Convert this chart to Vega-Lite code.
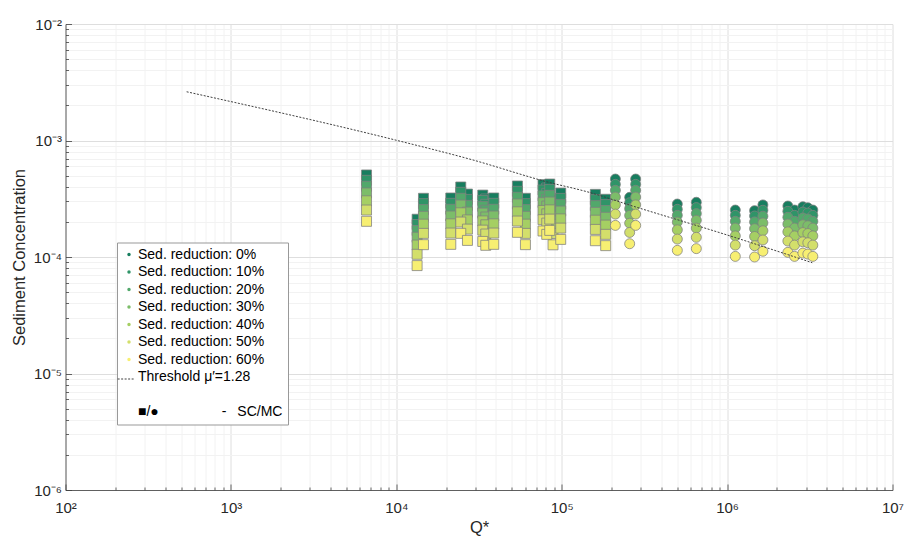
{
  "$schema": "https://vega.github.io/schema/vega-lite/v6.json",
  "width": 827,
  "height": 466,
  "autosize": {"type": "none"},
  "padding": {"left": 65.5, "top": 24, "right": 29, "bottom": 48},
  "background": "#ffffff",
  "config": {"view": {"stroke": null}, "font": "Liberation Sans"},
  "datasets": {
    "pts": [
      {"q":6607,"c":5.06e-4,"s":"0%","t":"SC"},{"q":13360,"c":2.11e-4,"s":"0%","t":"SC"},{"q":14600,"c":3.19e-4,"s":"0%","t":"SC"},{"q":21350,"c":3.21e-4,"s":"0%","t":"SC"},{"q":24530,"c":3.99e-4,"s":"0%","t":"SC"},{"q":26930,"c":3.47e-4,"s":"0%","t":"SC"},{"q":33320,"c":3.40e-4,"s":"0%","t":"SC"},{"q":34740,"c":3.15e-4,"s":"0%","t":"SC"},{"q":38830,"c":3.21e-4,"s":"0%","t":"SC"},{"q":54000,"c":4.07e-4,"s":"0%","t":"SC"},{"q":60350,"c":3.19e-4,"s":"0%","t":"SC"},{"q":77100,"c":4.18e-4,"s":"0%","t":"SC"},{"q":81200,"c":3.91e-4,"s":"0%","t":"SC"},{"q":84650,"c":4.23e-4,"s":"0%","t":"SC"},{"q":88630,"c":3.18e-4,"s":"0%","t":"SC"},{"q":98630,"c":3.54e-4,"s":"0%","t":"SC"},{"q":159800,"c":3.45e-4,"s":"0%","t":"SC"},{"q":184500,"c":3.13e-4,"s":"0%","t":"SC"},
      {"q":211100,"c":4.67e-4,"s":"0%","t":"MC"},{"q":257600,"c":3.25e-4,"s":"0%","t":"MC"},{"q":280000,"c":4.67e-4,"s":"0%","t":"MC"},{"q":500100,"c":2.85e-4,"s":"0%","t":"MC"},{"q":651500,"c":2.95e-4,"s":"0%","t":"MC"},{"q":1121000,"c":2.53e-4,"s":"0%","t":"MC"},{"q":1466000,"c":2.50e-4,"s":"0%","t":"MC"},{"q":1646000,"c":2.80e-4,"s":"0%","t":"MC"},{"q":2330000,"c":2.74e-4,"s":"0%","t":"MC"},{"q":2557000,"c":2.53e-4,"s":"0%","t":"MC"},{"q":2871000,"c":2.70e-4,"s":"0%","t":"MC"},{"q":3077000,"c":2.65e-4,"s":"0%","t":"MC"},{"q":3299000,"c":2.53e-4,"s":"0%","t":"MC"},

      {"q":6607,"c":4.554e-4,"s":"10%","t":"SC"},{"q":13360,"c":1.899e-4,"s":"10%","t":"SC"},{"q":14600,"c":2.871e-4,"s":"10%","t":"SC"},{"q":21350,"c":2.889e-4,"s":"10%","t":"SC"},{"q":24530,"c":3.591e-4,"s":"10%","t":"SC"},{"q":26930,"c":3.123e-4,"s":"10%","t":"SC"},{"q":33320,"c":3.06e-4,"s":"10%","t":"SC"},{"q":34740,"c":2.835e-4,"s":"10%","t":"SC"},{"q":38830,"c":2.889e-4,"s":"10%","t":"SC"},{"q":54000,"c":3.663e-4,"s":"10%","t":"SC"},{"q":60350,"c":2.871e-4,"s":"10%","t":"SC"},{"q":77100,"c":3.762e-4,"s":"10%","t":"SC"},{"q":81200,"c":3.519e-4,"s":"10%","t":"SC"},{"q":84650,"c":3.807e-4,"s":"10%","t":"SC"},{"q":88630,"c":2.862e-4,"s":"10%","t":"SC"},{"q":98630,"c":3.186e-4,"s":"10%","t":"SC"},{"q":159800,"c":3.105e-4,"s":"10%","t":"SC"},{"q":184500,"c":2.817e-4,"s":"10%","t":"SC"},
      {"q":211100,"c":4.203e-4,"s":"10%","t":"MC"},{"q":257600,"c":2.925e-4,"s":"10%","t":"MC"},{"q":280000,"c":4.203e-4,"s":"10%","t":"MC"},{"q":500100,"c":2.565e-4,"s":"10%","t":"MC"},{"q":651500,"c":2.655e-4,"s":"10%","t":"MC"},{"q":1121000,"c":2.277e-4,"s":"10%","t":"MC"},{"q":1466000,"c":2.25e-4,"s":"10%","t":"MC"},{"q":1646000,"c":2.52e-4,"s":"10%","t":"MC"},{"q":2330000,"c":2.466e-4,"s":"10%","t":"MC"},{"q":2557000,"c":2.277e-4,"s":"10%","t":"MC"},{"q":2871000,"c":2.43e-4,"s":"10%","t":"MC"},{"q":3077000,"c":2.385e-4,"s":"10%","t":"MC"},{"q":3299000,"c":2.277e-4,"s":"10%","t":"MC"},

      {"q":6607,"c":4.048e-4,"s":"20%","t":"SC"},{"q":13360,"c":1.688e-4,"s":"20%","t":"SC"},{"q":14600,"c":2.552e-4,"s":"20%","t":"SC"},{"q":21350,"c":2.568e-4,"s":"20%","t":"SC"},{"q":24530,"c":3.192e-4,"s":"20%","t":"SC"},{"q":26930,"c":2.776e-4,"s":"20%","t":"SC"},{"q":33320,"c":2.72e-4,"s":"20%","t":"SC"},{"q":34740,"c":2.52e-4,"s":"20%","t":"SC"},{"q":38830,"c":2.568e-4,"s":"20%","t":"SC"},{"q":54000,"c":3.256e-4,"s":"20%","t":"SC"},{"q":60350,"c":2.552e-4,"s":"20%","t":"SC"},{"q":77100,"c":3.344e-4,"s":"20%","t":"SC"},{"q":81200,"c":3.128e-4,"s":"20%","t":"SC"},{"q":84650,"c":3.384e-4,"s":"20%","t":"SC"},{"q":88630,"c":2.544e-4,"s":"20%","t":"SC"},{"q":98630,"c":2.832e-4,"s":"20%","t":"SC"},{"q":159800,"c":2.76e-4,"s":"20%","t":"SC"},{"q":184500,"c":2.504e-4,"s":"20%","t":"SC"},
      {"q":211100,"c":3.736e-4,"s":"20%","t":"MC"},{"q":257600,"c":2.6e-4,"s":"20%","t":"MC"},{"q":280000,"c":3.736e-4,"s":"20%","t":"MC"},{"q":500100,"c":2.28e-4,"s":"20%","t":"MC"},{"q":651500,"c":2.36e-4,"s":"20%","t":"MC"},{"q":1121000,"c":2.024e-4,"s":"20%","t":"MC"},{"q":1466000,"c":2.0e-4,"s":"20%","t":"MC"},{"q":1646000,"c":2.24e-4,"s":"20%","t":"MC"},{"q":2330000,"c":2.192e-4,"s":"20%","t":"MC"},{"q":2557000,"c":2.024e-4,"s":"20%","t":"MC"},{"q":2871000,"c":2.16e-4,"s":"20%","t":"MC"},{"q":3077000,"c":2.12e-4,"s":"20%","t":"MC"},{"q":3299000,"c":2.024e-4,"s":"20%","t":"MC"},

      {"q":6607,"c":3.542e-4,"s":"30%","t":"SC"},{"q":13360,"c":1.477e-4,"s":"30%","t":"SC"},{"q":14600,"c":2.233e-4,"s":"30%","t":"SC"},{"q":21350,"c":2.247e-4,"s":"30%","t":"SC"},{"q":24530,"c":2.793e-4,"s":"30%","t":"SC"},{"q":26930,"c":2.429e-4,"s":"30%","t":"SC"},{"q":33320,"c":2.38e-4,"s":"30%","t":"SC"},{"q":34740,"c":2.205e-4,"s":"30%","t":"SC"},{"q":38830,"c":2.247e-4,"s":"30%","t":"SC"},{"q":54000,"c":2.849e-4,"s":"30%","t":"SC"},{"q":60350,"c":2.233e-4,"s":"30%","t":"SC"},{"q":77100,"c":2.926e-4,"s":"30%","t":"SC"},{"q":81200,"c":2.737e-4,"s":"30%","t":"SC"},{"q":84650,"c":2.961e-4,"s":"30%","t":"SC"},{"q":88630,"c":2.226e-4,"s":"30%","t":"SC"},{"q":98630,"c":2.478e-4,"s":"30%","t":"SC"},{"q":159800,"c":2.415e-4,"s":"30%","t":"SC"},{"q":184500,"c":2.191e-4,"s":"30%","t":"SC"},
      {"q":211100,"c":3.269e-4,"s":"30%","t":"MC"},{"q":257600,"c":2.275e-4,"s":"30%","t":"MC"},{"q":280000,"c":3.269e-4,"s":"30%","t":"MC"},{"q":500100,"c":1.995e-4,"s":"30%","t":"MC"},{"q":651500,"c":2.065e-4,"s":"30%","t":"MC"},{"q":1121000,"c":1.771e-4,"s":"30%","t":"MC"},{"q":1466000,"c":1.75e-4,"s":"30%","t":"MC"},{"q":1646000,"c":1.96e-4,"s":"30%","t":"MC"},{"q":2330000,"c":1.918e-4,"s":"30%","t":"MC"},{"q":2557000,"c":1.771e-4,"s":"30%","t":"MC"},{"q":2871000,"c":1.89e-4,"s":"30%","t":"MC"},{"q":3077000,"c":1.855e-4,"s":"30%","t":"MC"},{"q":3299000,"c":1.771e-4,"s":"30%","t":"MC"},

      {"q":6607,"c":3.036e-4,"s":"40%","t":"SC"},{"q":13360,"c":1.266e-4,"s":"40%","t":"SC"},{"q":14600,"c":1.914e-4,"s":"40%","t":"SC"},{"q":21350,"c":1.926e-4,"s":"40%","t":"SC"},{"q":24530,"c":2.394e-4,"s":"40%","t":"SC"},{"q":26930,"c":2.082e-4,"s":"40%","t":"SC"},{"q":33320,"c":2.04e-4,"s":"40%","t":"SC"},{"q":34740,"c":1.89e-4,"s":"40%","t":"SC"},{"q":38830,"c":1.926e-4,"s":"40%","t":"SC"},{"q":54000,"c":2.442e-4,"s":"40%","t":"SC"},{"q":60350,"c":1.914e-4,"s":"40%","t":"SC"},{"q":77100,"c":2.508e-4,"s":"40%","t":"SC"},{"q":81200,"c":2.346e-4,"s":"40%","t":"SC"},{"q":84650,"c":2.538e-4,"s":"40%","t":"SC"},{"q":88630,"c":1.908e-4,"s":"40%","t":"SC"},{"q":98630,"c":2.124e-4,"s":"40%","t":"SC"},{"q":159800,"c":2.07e-4,"s":"40%","t":"SC"},{"q":184500,"c":1.878e-4,"s":"40%","t":"SC"},
      {"q":211100,"c":2.802e-4,"s":"40%","t":"MC"},{"q":257600,"c":1.95e-4,"s":"40%","t":"MC"},{"q":280000,"c":2.802e-4,"s":"40%","t":"MC"},{"q":500100,"c":1.71e-4,"s":"40%","t":"MC"},{"q":651500,"c":1.77e-4,"s":"40%","t":"MC"},{"q":1121000,"c":1.518e-4,"s":"40%","t":"MC"},{"q":1466000,"c":1.5e-4,"s":"40%","t":"MC"},{"q":1646000,"c":1.68e-4,"s":"40%","t":"MC"},{"q":2330000,"c":1.644e-4,"s":"40%","t":"MC"},{"q":2557000,"c":1.518e-4,"s":"40%","t":"MC"},{"q":2871000,"c":1.62e-4,"s":"40%","t":"MC"},{"q":3077000,"c":1.59e-4,"s":"40%","t":"MC"},{"q":3299000,"c":1.518e-4,"s":"40%","t":"MC"},

      {"q":6607,"c":2.53e-4,"s":"50%","t":"SC"},{"q":13360,"c":1.055e-4,"s":"50%","t":"SC"},{"q":14600,"c":1.595e-4,"s":"50%","t":"SC"},{"q":21350,"c":1.605e-4,"s":"50%","t":"SC"},{"q":24530,"c":1.995e-4,"s":"50%","t":"SC"},{"q":26930,"c":1.735e-4,"s":"50%","t":"SC"},{"q":33320,"c":1.7e-4,"s":"50%","t":"SC"},{"q":34740,"c":1.575e-4,"s":"50%","t":"SC"},{"q":38830,"c":1.605e-4,"s":"50%","t":"SC"},{"q":54000,"c":2.035e-4,"s":"50%","t":"SC"},{"q":60350,"c":1.595e-4,"s":"50%","t":"SC"},{"q":77100,"c":2.09e-4,"s":"50%","t":"SC"},{"q":81200,"c":1.955e-4,"s":"50%","t":"SC"},{"q":84650,"c":2.115e-4,"s":"50%","t":"SC"},{"q":88630,"c":1.59e-4,"s":"50%","t":"SC"},{"q":98630,"c":1.77e-4,"s":"50%","t":"SC"},{"q":159800,"c":1.725e-4,"s":"50%","t":"SC"},{"q":184500,"c":1.565e-4,"s":"50%","t":"SC"},
      {"q":211100,"c":2.335e-4,"s":"50%","t":"MC"},{"q":257600,"c":1.625e-4,"s":"50%","t":"MC"},{"q":280000,"c":2.335e-4,"s":"50%","t":"MC"},{"q":500100,"c":1.425e-4,"s":"50%","t":"MC"},{"q":651500,"c":1.475e-4,"s":"50%","t":"MC"},{"q":1121000,"c":1.265e-4,"s":"50%","t":"MC"},{"q":1466000,"c":1.25e-4,"s":"50%","t":"MC"},{"q":1646000,"c":1.4e-4,"s":"50%","t":"MC"},{"q":2330000,"c":1.37e-4,"s":"50%","t":"MC"},{"q":2557000,"c":1.265e-4,"s":"50%","t":"MC"},{"q":2871000,"c":1.35e-4,"s":"50%","t":"MC"},{"q":3077000,"c":1.325e-4,"s":"50%","t":"MC"},{"q":3299000,"c":1.265e-4,"s":"50%","t":"MC"},

      {"q":6607,"c":2.024e-4,"s":"60%","t":"SC"},{"q":13360,"c":0.844e-4,"s":"60%","t":"SC"},{"q":14600,"c":1.276e-4,"s":"60%","t":"SC"},{"q":21350,"c":1.284e-4,"s":"60%","t":"SC"},{"q":24530,"c":1.596e-4,"s":"60%","t":"SC"},{"q":26930,"c":1.388e-4,"s":"60%","t":"SC"},{"q":33320,"c":1.36e-4,"s":"60%","t":"SC"},{"q":34740,"c":1.26e-4,"s":"60%","t":"SC"},{"q":38830,"c":1.284e-4,"s":"60%","t":"SC"},{"q":54000,"c":1.628e-4,"s":"60%","t":"SC"},{"q":60350,"c":1.276e-4,"s":"60%","t":"SC"},{"q":77100,"c":1.672e-4,"s":"60%","t":"SC"},{"q":81200,"c":1.564e-4,"s":"60%","t":"SC"},{"q":84650,"c":1.692e-4,"s":"60%","t":"SC"},{"q":88630,"c":1.272e-4,"s":"60%","t":"SC"},{"q":98630,"c":1.416e-4,"s":"60%","t":"SC"},{"q":159800,"c":1.38e-4,"s":"60%","t":"SC"},{"q":184500,"c":1.252e-4,"s":"60%","t":"SC"},
      {"q":211100,"c":1.868e-4,"s":"60%","t":"MC"},{"q":257600,"c":1.3e-4,"s":"60%","t":"MC"},{"q":280000,"c":1.868e-4,"s":"60%","t":"MC"},{"q":500100,"c":1.14e-4,"s":"60%","t":"MC"},{"q":651500,"c":1.18e-4,"s":"60%","t":"MC"},{"q":1121000,"c":1.012e-4,"s":"60%","t":"MC"},{"q":1466000,"c":1.0e-4,"s":"60%","t":"MC"},{"q":1646000,"c":1.12e-4,"s":"60%","t":"MC"},{"q":2330000,"c":1.096e-4,"s":"60%","t":"MC"},{"q":2557000,"c":1.012e-4,"s":"60%","t":"MC"},{"q":2871000,"c":1.08e-4,"s":"60%","t":"MC"},{"q":3077000,"c":1.06e-4,"s":"60%","t":"MC"},{"q":3299000,"c":1.012e-4,"s":"60%","t":"MC"}
    ],
    "thr": [
      {"q":540,"c":2.62e-3,"k":"thr"},{"q":10030,"c":1.004e-3,"k":"thr"},{"q":29110,"c":6.80e-4,"k":"thr"},{"q":80840,"c":4.43e-4,"k":"thr"},{"q":147700,"c":3.58e-4,"k":"thr"},{"q":257600,"c":2.79e-4,"k":"thr"},{"q":1084000,"c":1.49e-4,"k":"thr"},{"q":3272000,"c":8.93e-5,"k":"thr"}
    ]
  },
  "layer": [
    {
      "data": {"name": "pts"},
      "mark": {"type": "point", "filled": true, "size": 100, "opacity": 1, "stroke": "#808080", "strokeWidth": 0.9, "strokeOpacity": 0.85},
      "encoding": {
        "x": {
          "field": "q", "type": "quantitative",
          "scale": {"type": "log", "domain": [100, 10000000], "nice": false},
          "axis": {
            "title": "Q*", "titleFont": "Liberation Sans", "titleFontSize": 16.5, "titleFontWeight": "normal", "titleColor": "#262626", "titlePadding": 1,
            "labelFont": "Liberation Sans", "labelFontSize": 15, "labelColor": "#262626", "labelPadding": 16,
            "labelOverlap": false, "labelFlush": false, "labelBound": false,
            "labelExpr": "abs(log(datum.value)/LN10 - round(log(datum.value)/LN10)) < 1e-6 ? '10' + ['²','³','⁴','⁵','⁶','⁷'][round(log(datum.value)/LN10)-2] : ''",
            "grid": true,
            "gridColor": {"condition": {"test": "abs(log(datum.value)/LN10 - round(log(datum.value)/LN10)) < 1e-6", "value": "#dedede"}, "value": "#f2f2f2"},
            "gridWidth": 1,
            "tickSize": {"condition": {"test": "abs(log(datum.value)/LN10 - round(log(datum.value)/LN10)) < 1e-6", "value": -6}, "value": -3},
            "tickColor": "#404040", "tickWidth": 0.8,
            "domainColor": "#404040", "domainWidth": 0.8
          }
        },
        "y": {
          "field": "c", "type": "quantitative",
          "scale": {"type": "log", "domain": [0.000001, 0.01], "nice": false},
          "axis": {
            "title": "Sediment Concentration", "titleFont": "Liberation Sans", "titleFontSize": 16.5, "titleFontWeight": "normal", "titleColor": "#262626", "titlePadding": 6,
            "labelFont": "Liberation Sans", "labelFontSize": 15, "labelColor": "#262626", "labelPadding": 10,
            "labelOverlap": false, "labelFlush": false, "labelBound": false,
            "labelExpr": "abs(log(datum.value)/LN10 - round(log(datum.value)/LN10)) < 1e-6 ? '10' + ['⁻⁶','⁻⁵','⁻⁴','⁻³','⁻²'][round(log(datum.value)/LN10)+6] : ''",
            "grid": true,
            "gridColor": {"condition": {"test": "abs(log(datum.value)/LN10 - round(log(datum.value)/LN10)) < 1e-6", "value": "#dedede"}, "value": "#f2f2f2"},
            "gridWidth": 1,
            "tickSize": {"condition": {"test": "abs(log(datum.value)/LN10 - round(log(datum.value)/LN10)) < 1e-6", "value": -6}, "value": -3},
            "tickColor": "#404040", "tickWidth": 0.8,
            "domainColor": "#404040", "domainWidth": 0.8
          }
        },
        "color": {
          "field": "s", "type": "nominal",
          "scale": {
            "domain": ["0%","10%","20%","30%","40%","50%","60%","thr","gap","scmc"],
            "range": ["#177e5f","#2f9468","#52a86b","#7cbd69","#a5cf63","#d3df6b","#f7ef72","transparent","transparent","transparent"]
          },
          "legend": {
            "orient": "none", "legendX": 51.5, "legendY": 218.5,
            "title": null, "symbolType": "circle", "symbolSize": 12,
            "labelFont": "Liberation Sans", "labelFontSize": 14, "labelColor": "#000000", "labelLimit": 300,
            "padding": 5, "strokeColor": "#999999", "fillColor": "#ffffff",
            "rowPadding": 3.5, "symbolStrokeWidth": 0, "labelOffset": 2,
            "labelExpr": "datum.value == 'thr' ? 'Threshold μ′=1.28' : datum.value == 'gap' ? '' : datum.value == 'scmc' ? '■/●\u2003\u2003\u2003\u2003\u2002-\u2002\u00a0SC/MC' : 'Sed. reduction: ' + datum.value"
          }
        },
        "shape": {
          "field": "t", "type": "nominal",
          "scale": {"domain": ["SC","MC"], "range": ["square","circle"]},
          "legend": null
        }
      }
    },
    {
      "data": {"name": "thr"},
      "mark": {"type": "line", "color": "#404040", "strokeWidth": 1, "interpolate": "monotone"},
      "encoding": {
        "x": {"field": "q", "type": "quantitative"},
        "y": {"field": "c", "type": "quantitative"},
        "strokeDash": {
          "field": "k", "type": "nominal",
          "scale": {"domain": ["thr"], "range": [[2, 1.5]]},
          "legend": {
            "orient": "none", "legendX": 51.5, "legendY": 346,
            "title": null, "padding": 0, "symbolType": "stroke", "symbolSize": 280,
            "symbolStrokeColor": "#404040", "symbolStrokeWidth": 1,
            "labelExpr": "''", "labelOffset": 0, "labelFontSize": 14
          }
        }
      }
    }
  ]
}
